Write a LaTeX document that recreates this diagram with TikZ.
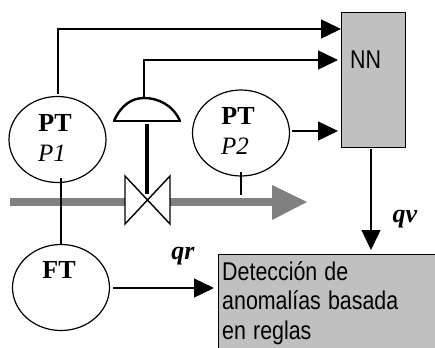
\documentclass[tikz,border=0pt]{standalone}
\usepackage{fontspec}
\setmainfont{Liberation Serif}
\setsansfont{Liberation Sans}
\usetikzlibrary{arrows.meta,shapes.geometric}
\definecolor{boxgray}{HTML}{C0C0C0}
\definecolor{pipegray}{HTML}{808080}
\tikzset{
    transmitter/.style={draw,ellipse,line width=1.2pt,inner sep=0pt,minimum width=97pt,minimum height=86pt},
    signal/.style={line width=1.4pt,-{Triangle[length=20pt,width=19pt]}},
    wire/.style={line width=1.3pt},
    tagbold/.style={font=\fontsize{26}{28}\selectfont\bfseries,inner sep=0pt},
    tagname/.style={font=\fontsize{25}{27}\selectfont\itshape,inner sep=0pt},
    flow/.style={font=\fontsize{26}{28}\selectfont\bfseries\itshape,inner sep=0pt},
    grayblock/.style={draw,fill=boxgray,line width=1.2pt,inner sep=0pt},
    blocktext/.style={inner sep=0pt,transform shape,yscale=1.2}
}
\begin{document}
\begin{tikzpicture}[x=1pt,y=-1pt]
    \useasboundingbox (0,0) rectangle (435,347);

    % process pipe
    \fill[pipegray] (9.5,198) rectangle (125,206);
    \fill[pipegray] (170,198) rectangle (273,206);
    \fill[pipegray] (272,185) -- (307,202) -- (272,220) -- cycle;

    % valve and actuator
    \draw[line width=1.4pt,fill=white] (125,176) -- (170,224) -- (170,176) -- (125,224) -- cycle;
    \draw[line width=3.5pt] (147,124) -- (147,194);
    \draw[line width=1.3pt] (113,121) -- (181,121);
    \draw[line width=2.4pt] (114,121) .. controls (121,105) and (132,98) .. (144,98) .. controls (158,98) and (173,105) .. (180,121);

    % transmitters
    \node[transmitter] (ptone) at (57.5,139.5) {};
    \node[transmitter] (pttwo) at (241,133) {};
    \node[transmitter] (ft) at (61,287.5) {};
    \node[tagbold] (ptonetag) at (55,122.5) {PT};
    \node[tagname] (ptonename) at (52,153.5) {P1};
    \node[tagbold] (pttwotag) at (238,115.5) {PT};
    \node[tagname] (pttwoname) at (235,146.5) {P2};
    \node[tagbold] (fttag) at (59,270) {FT};

    % blocks
    \node[grayblock,anchor=north west,minimum width=64pt,minimum height=135pt] (nn) at (341,12) {};
    \node[blocktext,font=\sffamily\fontsize{21.4}{24}\selectfont] (nntext) at (365.5,60) {NN};
    \node[grayblock,anchor=north west,minimum width=240pt,minimum height=120pt] (rules) at (218,254) {};
    \node[blocktext,anchor=north west,text width=210pt,align=left,font=\sffamily\fontsize{21.4}{24.6}\selectfont] (rulestext) at (222,261) {Detección de\\anomalías basada\\en reglas};

    % ends of the connectors
    \coordinate (topin) at (341,29);
    \coordinate (midin) at (338,60);
    \coordinate (lowin) at (338,131);
    \coordinate (ptonetop) at (58,94);
    \coordinate (dome) at (144,97);
    \coordinate (pttwoout) at (292,131);
    \coordinate (ptonelow) at (61,178);
    \coordinate (fttop) at (61,244);
    \coordinate (pttwolow) at (241,172);
    \coordinate (pipetap) at (241,195);
    \coordinate (nnlow) at (371,149);
    \coordinate (rulestop) at (371,250);
    \coordinate (ftout) at (113,288);
    \coordinate (rulesin) at (214,288);

    % signals
    \draw[signal] (ptonetop) |- (topin);
    \draw[signal] (dome) |- (midin);
    \draw[signal] (pttwoout) -- (lowin);
    \draw[signal] (nnlow) -- (rulestop);
    \draw[signal] (ftout) -- (rulesin);
    \draw[wire] (ptonelow) -- (fttop);
    \draw[wire] (pttwolow) -- (pipetap);

    % flow labels
    \node[flow] (qr) at (183,256) {qr};
    \node[flow] (qv) at (405,219) {qv};
\end{tikzpicture}
\end{document}
